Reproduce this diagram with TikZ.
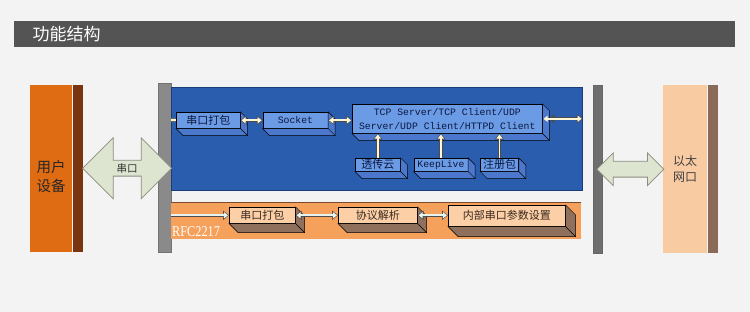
\documentclass[tikz,border=0pt]{standalone}
\usepackage{fontspec}
\newfontfamily\cjk{Noto Sans CJK SC}
\setmonofont{Liberation Mono}
\newfontfamily\rfcfont[FakeStretch=0.82]{Liberation Serif}
\usetikzlibrary{arrows.meta, positioning, shapes.arrows, calc}

\definecolor{bgcol}{HTML}{F3F3F3}
\definecolor{headcol}{HTML}{545454}
\definecolor{usercol}{HTML}{DF6C12}
\definecolor{userdark}{HTML}{7A3510}
\definecolor{barcol}{HTML}{8A8A8A}
\definecolor{netcol}{HTML}{2B5DAE}
\definecolor{netedge}{HTML}{1A3C7A}
\definecolor{netboxcol}{HTML}{6C9BE6}
\definecolor{netdepth}{HTML}{4B78CC}
\definecolor{netink}{HTML}{0A1840}
\definecolor{rfccol}{HTML}{F5A05B}
\definecolor{rfcedge}{HTML}{7A4A2A}
\definecolor{rfcboxcol}{HTML}{FCCFA6}
\definecolor{rfcdepth}{HTML}{8E705C}
\definecolor{rfcink}{HTML}{3A2A20}
\definecolor{arrowfill}{HTML}{DDE4CF}
\definecolor{arrowline}{HTML}{8C8C80}
\definecolor{ethcol}{HTML}{F8CBA2}
\definecolor{ethdark}{HTML}{8A6B57}
\definecolor{ethbarcol}{HTML}{6E6E6E}
\definecolor{creamcol}{HTML}{FFF6D5}
\definecolor{mintcol}{HTML}{E6F2EE}

% side and bottom faces of a raised box
\newcommand{\boxdepth}[3]{%
  \filldraw[fill=#3, draw=black, line width=0.5pt]
    (#1.south west) -- ($(#1.south west)+(#2,#2)$) -- ($(#1.south east)+(#2,#2)$)
    -- ($(#1.north east)+(#2,#2)$) -- (#1.north east) -- (#1.south east) -- cycle;
  \draw[line width=0.5pt] (#1.south east) -- ++(#2,#2);}

\begin{document}
\begin{tikzpicture}[
    x=1pt, y=-1pt,
    % === STYLES ===
    panel/.style={
        rectangle,
        inner sep=0pt,
        anchor=north west
    },
    netbox/.style={
        rectangle,
        draw=black,
        line width=0.6pt,
        fill=netboxcol,
        text=netink,
        inner sep=1pt,
        anchor=north west,
        align=center,
        font=\fontsize{9.8}{13.5}\selectfont\ttfamily
    },
    netcjk/.style={
        netbox,
        font=\fontsize{11}{13}\selectfont\cjk
    },
    rfcbox/.style={
        rectangle,
        draw=black,
        line width=0.6pt,
        fill=rfcboxcol,
        text=rfcink,
        inner sep=1pt,
        anchor=north west,
        font=\fontsize{11}{13}\selectfont\cjk
    },
    dblarrow/.style={
        double arrow,
        draw=arrowline,
        line width=0.8pt,
        fill=arrowfill,
        double arrow head extend=#1,
        inner sep=0pt,
        text=black!80,
        font=\fontsize{10.5}{12}\selectfont\cjk
    },
    pipe/.style={
        line width=3.4pt,
        draw=black!70,
        {Triangle[length=6pt,width=9pt]}-{Triangle[length=6pt,width=9pt]},
        postaction={
            draw=#1,
            line width=1.8pt,
            {Triangle[length=4.2pt,width=6.2pt]}-{Triangle[length=4.2pt,width=6.2pt]},
            shorten <=0.9pt,
            shorten >=0.9pt
        }
    },
    pipeto/.style={
        line width=3.4pt,
        draw=black!70,
        -{Triangle[length=6pt,width=9pt]},
        postaction={
            draw=#1,
            line width=1.8pt,
            -{Triangle[length=4.2pt,width=6.2pt]},
            shorten >=0.9pt
        }
    },
    stub/.style={
        line width=4pt,
        draw=black!60,
        postaction={draw=#1, line width=2pt}
    }
]

% === BACKGROUND AND TITLE ===
\fill[bgcol] (0,0) rectangle (750,312);
\node[panel, fill=headcol, minimum width=721pt, minimum height=26pt] (header) at (14,21) {};
\node[text=white, anchor=west, font=\fontsize{17}{20}\selectfont\cjk] (title) at ([xshift=15pt]header.west) {功能结构};

% === USER DEVICE AND SERIAL BAR ===
\node[panel, fill=usercol, minimum width=42pt, minimum height=167pt] (user) at (30,85) {};
\node[align=center, font=\fontsize{14.5}{19}\selectfont\cjk, text=black!85] (usertext)
    at ([yshift=-8pt]user.center) {用户\\设备};
\node[panel, fill=userdark, minimum width=10pt, minimum height=167pt] (userside) at (user.north east) {};
\node[panel, fill=barcol, draw=black!55, line width=0.5pt, minimum width=13pt, minimum height=169pt] (serbar) at (158,83) {};

% === PANELS ===
\node[panel, fill=netcol, draw=netedge, line width=0.6pt, minimum width=411pt, minimum height=103pt] (netpanel) at (171,87) {};
\node[panel, fill=rfccol, minimum width=410pt, minimum height=37pt] (rfcpanel) at (171,202) {};
\draw[rfcedge, line width=0.8pt] (rfcpanel.north west) -- (rfcpanel.north east);
\node[text=white, anchor=west, font=\fontsize{15}{16}\selectfont\rfcfont, inner sep=1pt] (rfc) at (171,232) {RFC2217};

% === ETHERNET SIDE ===
\node[panel, fill=ethbarcol, draw=black!60, line width=0.5pt, minimum width=9pt, minimum height=168pt] (ethbar) at (593,85) {};
\node[panel, fill=ethcol, minimum width=44pt, minimum height=168pt, align=center,
      font=\fontsize{12}{16}\selectfont\cjk, text=black!75] (eth) at (663,85) {以太\\网口};
\node[panel, fill=ethdark, minimum width=10pt, minimum height=168pt] (ethside) at (eth.north east) {};

% === NETWORK BOXES ===
\node[netcjk, minimum width=64pt, minimum height=16pt] (pack) at (176,112) {串口打包};
\node[netbox, minimum width=65pt, minimum height=16pt, right=22pt of pack.north east, anchor=north west] (sock) {Socket};
\node[netbox, minimum width=190pt, minimum height=29pt] (tcp) at (352,104) {TCP Server/TCP Client/UDP\\Server/UDP Client/HTTPD Client};
\node[netcjk, minimum width=45pt, minimum height=13pt, inner sep=0pt] (cloud) at (355,158) {透传云};
\node[netbox, minimum width=54pt, minimum height=13pt, inner sep=0pt, right=13pt of cloud.north east, anchor=north west] (keep) {KeepLive};
\node[netcjk, minimum width=38pt, minimum height=13pt, inner sep=0pt, right=12pt of keep.north east, anchor=north west] (reg) {注册包};

% === RFC2217 BOXES ===
\node[rfcbox, minimum width=66pt, minimum height=16pt] (opack) at (229,207) {串口打包};
\node[rfcbox, minimum width=79pt, minimum height=16pt] (proto) at (338,207) {协议解析};
\node[rfcbox, minimum width=117pt, minimum height=21pt] (param) at (448,205) {内部串口参数设置};

% === DEPTH FACES ===
\foreach \b in {pack, sock, cloud, keep, reg} {\boxdepth{\b}{7}{netdepth}}
\boxdepth{tcp}{7}{netdepth}
\foreach \b in {opack, proto} {\boxdepth{\b}{9}{rfcdepth}}
\boxdepth{param}{10}{rfcdepth}

% === CONNECTIONS ===
\draw[stub=creamcol] (netpanel.west |- pack.west) -- (pack.west);
\draw[pipe=creamcol] (pack.east) -- (sock.west);
\draw[pipe=creamcol] (sock.east) -- (sock.east -| tcp.west);
\draw[pipe=creamcol, shorten <=6pt] (tcp.east) -- (tcp.east -| netpanel.east);
\foreach \b in {cloud, keep, reg}
    \draw[pipeto=creamcol] (\b.north) -- (\b.north |- tcp.south);

\draw[pipeto=mintcol] (rfcpanel.west |- opack.west) -- (opack.west);
\draw[pipe=mintcol] (opack.east) -- (proto.west);
\draw[pipe=mintcol] (proto.east) -- (proto.east -| param.west);

% === INTERFACE ARROWS ===
\node[dblarrow=15pt, minimum height=89pt, minimum width=61pt] (serarrow)
    at ($(userside.east)!0.5!(serbar.east)$) {串口};
\node[dblarrow=8.5pt, minimum height=67pt, minimum width=32pt] (etharrow)
    at ($(ethbar.center)!0.5!(eth.west)$) {\rule{0pt}{15pt}};

\end{tikzpicture}
\end{document}
